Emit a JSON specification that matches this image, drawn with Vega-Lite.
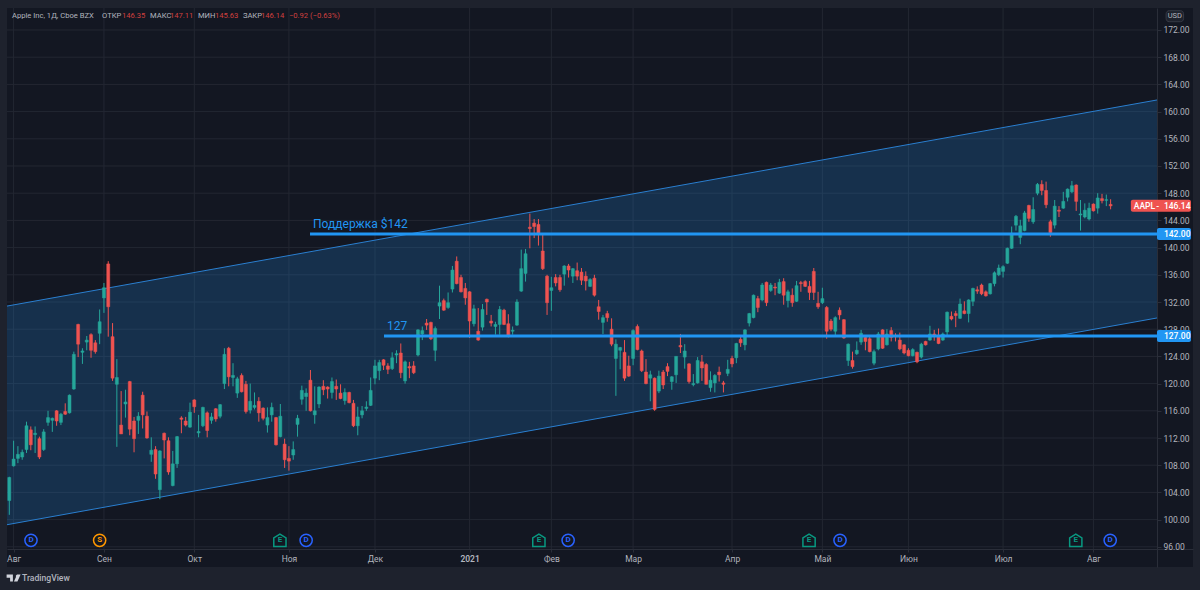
{
  "$schema": "https://vega.github.io/schema/vega-lite/v6.json",
  "background": "#1e222d",
  "autosize": "none",
  "padding": {"left": 7, "top": 8, "right": 7, "bottom": 23},
  "width": 1186,
  "height": 559,
  "datasets": {
    "candles": [
      {"i":0,"o":102.8,"h":106.3,"l":100.7,"c":106.2},{"i":1,"o":107.9,"h":111.6,"l":107.8,"c":108.9},{"i":2,"o":109.0,"h":110.8,"l":108.3,"c":109.6},{"i":3,"o":109.2,"h":110.3,"l":108.8,"c":109.9},{"i":4,"o":110.3,"h":114.4,"l":109.8,"c":113.8},{"i":5,"o":113.2,"h":113.7,"l":110.2,"c":111.0},{"i":6,"o":112.5,"h":113.7,"l":109.8,"c":112.7},{"i":7,"o":111.9,"h":112.2,"l":108.9,"c":109.2},{"i":8,"o":110.3,"h":113.3,"l":110.1,"c":112.9},{"i":9,"o":114.3,"h":116.0,"l":113.8,"c":115.0},
      {"i":10,"o":114.6,"h":115.0,"l":112.9,"c":114.9},{"i":11,"o":116.0,"h":116.1,"l":113.8,"c":114.5},{"i":12,"o":114.3,"h":115.7,"l":113.9,"c":115.5},{"i":13,"o":115.9,"h":117.1,"l":115.4,"c":115.5},{"i":14,"o":115.7,"h":118.4,"l":115.6,"c":118.3},{"i":15,"o":119.2,"h":124.7,"l":119.1,"c":124.3},{"i":16,"o":128.7,"h":128.8,"l":123.9,"c":125.8},{"i":17,"o":124.6,"h":125.2,"l":122.9,"c":124.8},{"i":18,"o":126.1,"h":127.0,"l":124.9,"c":126.4},{"i":19,"o":127.2,"h":127.4,"l":123.8,"c":124.9},
      {"i":20,"o":126.0,"h":126.4,"l":124.4,"c":124.7},{"i":21,"o":127.4,"h":130.9,"l":125.8,"c":129.1},{"i":22,"o":132.6,"h":134.8,"l":130.4,"c":134.1},{"i":23,"o":137.6,"h":138.0,"l":126.9,"c":131.3},{"i":24,"o":126.9,"h":128.9,"l":120.4,"c":120.8},{"i":25,"o":119.9,"h":123.6,"l":110.7,"c":120.9},{"i":26,"o":113.9,"h":118.9,"l":112.6,"c":112.6},{"i":27,"o":117.0,"h":119.1,"l":115.0,"c":117.3},{"i":28,"o":120.3,"h":120.4,"l":112.4,"c":113.3},{"i":29,"o":114.5,"h":115.1,"l":109.9,"c":111.9},
      {"i":30,"o":114.6,"h":115.8,"l":112.6,"c":115.2},{"i":31,"o":118.3,"h":118.8,"l":113.4,"c":115.4},{"i":32,"o":115.2,"h":115.9,"l":111.9,"c":112.0},{"i":33,"o":109.6,"h":112.1,"l":108.5,"c":110.2},{"i":34,"o":110.3,"h":110.8,"l":106.0,"c":106.7},{"i":35,"o":104.4,"h":110.2,"l":103.0,"c":110.1},{"i":36,"o":112.7,"h":112.8,"l":109.0,"c":111.7},{"i":37,"o":111.6,"h":112.1,"l":106.6,"c":107.0},{"i":38,"o":105.0,"h":110.1,"l":104.9,"c":108.2},{"i":39,"o":108.2,"h":112.3,"l":107.6,"c":112.2},
      {"i":40,"o":114.95,"h":115.2,"l":112.7,"c":114.75},{"i":41,"o":114.5,"h":115.1,"l":113.7,"c":113.9},{"i":42,"o":113.6,"h":117.2,"l":113.5,"c":115.8},{"i":43,"o":117.6,"h":117.7,"l":115.7,"c":116.6},{"i":44,"o":112.75,"h":115.4,"l":112.1,"c":112.95},{"i":45,"o":113.8,"h":116.6,"l":113.6,"c":116.5},{"i":46,"o":115.7,"h":115.9,"l":112.1,"c":113.1},{"i":47,"o":114.6,"h":115.7,"l":114.1,"c":115.1},{"i":48,"o":116.3,"h":116.4,"l":114.4,"c":114.8},{"i":49,"o":115.2,"h":117.0,"l":114.9,"c":116.9},
      {"i":50,"o":120.0,"h":125.2,"l":119.2,"c":124.3},{"i":51,"o":125.2,"h":125.4,"l":119.6,"c":121.0},{"i":52,"o":120.9,"h":123.0,"l":119.6,"c":121.2},{"i":53,"o":118.6,"h":121.0,"l":117.9,"c":120.7},{"i":54,"o":121.2,"h":121.5,"l":118.7,"c":118.8},{"i":55,"o":119.9,"h":120.4,"l":115.6,"c":115.9},{"i":56,"o":116.1,"h":120.0,"l":115.6,"c":117.4},{"i":57,"o":116.5,"h":118.7,"l":116.2,"c":116.8},{"i":58,"o":117.4,"h":118.0,"l":114.4,"c":115.7},{"i":59,"o":116.4,"h":116.5,"l":114.6,"c":114.9},
      {"i":60,"o":113.9,"h":116.5,"l":112.8,"c":115.0},{"i":61,"o":115.4,"h":117.2,"l":114.4,"c":116.5},{"i":62,"o":115.0,"h":115.1,"l":110.9,"c":111.0},{"i":63,"o":112.2,"h":117.0,"l":112.1,"c":115.2},{"i":64,"o":111.1,"h":111.9,"l":107.6,"c":108.8},{"i":65,"o":109.0,"h":110.8,"l":107.2,"c":108.6},{"i":66,"o":109.5,"h":111.5,"l":108.8,"c":110.3},{"i":67,"o":114.0,"h":115.4,"l":112.2,"c":114.9},{"i":68,"o":117.7,"h":119.7,"l":116.9,"c":119.0},{"i":69,"o":118.1,"h":119.3,"l":116.0,"c":118.6},
      {"i":70,"o":120.5,"h":122.0,"l":115.9,"c":116.0},{"i":71,"o":115.4,"h":119.6,"l":114.1,"c":116.0},{"i":72,"o":117.0,"h":119.6,"l":116.4,"c":119.5},{"i":73,"o":119.6,"h":120.5,"l":118.3,"c":119.1},{"i":74,"o":119.5,"h":119.6,"l":117.8,"c":119.2},{"i":75,"o":118.7,"h":120.9,"l":117.8,"c":120.3},{"i":76,"o":119.6,"h":120.6,"l":117.6,"c":119.2},{"i":77,"o":118.6,"h":119.9,"l":117.7,"c":117.8},{"i":78,"o":117.5,"h":119.3,"l":116.9,"c":118.7},{"i":79,"o":118.7,"h":118.8,"l":117.1,"c":117.2},
      {"i":80,"o":117.1,"h":117.6,"l":113.6,"c":113.8},{"i":81,"o":113.8,"h":116.6,"l":112.4,"c":115.1},{"i":82,"o":115.4,"h":116.7,"l":114.9,"c":116.0},{"i":83,"o":116.35,"h":117.4,"l":116.0,"c":116.55},{"i":84,"o":116.8,"h":120.9,"l":116.7,"c":119.0},{"i":85,"o":120.8,"h":123.5,"l":119.9,"c":122.6},{"i":86,"o":121.9,"h":123.5,"l":120.5,"c":123.1},{"i":87,"o":123.5,"h":123.6,"l":122.0,"c":122.7},{"i":88,"o":122.6,"h":123.0,"l":121.4,"c":122.1},{"i":89,"o":122.2,"h":124.6,"l":122.0,"c":123.8},
      {"i":90,"o":124.2,"h":124.9,"l":123.0,"c":124.4},{"i":91,"o":124.5,"h":125.9,"l":120.8,"c":121.6},{"i":92,"o":120.4,"h":123.4,"l":120.0,"c":123.2},{"i":93,"o":122.5,"h":123.2,"l":120.8,"c":122.3},{"i":94,"o":122.6,"h":123.3,"l":121.4,"c":121.6},{"i":95,"o":124.2,"h":128.0,"l":124.0,"c":127.9},{"i":96,"o":127.3,"h":128.4,"l":126.4,"c":127.8},{"i":97,"o":128.9,"h":129.5,"l":127.9,"c":128.6},{"i":98,"o":129.0,"h":129.1,"l":126.4,"c":126.6},{"i":99,"o":124.9,"h":128.4,"l":123.3,"c":128.1},
      {"i":100,"o":131.4,"h":134.4,"l":129.5,"c":131.9},{"i":101,"o":132.2,"h":132.5,"l":130.7,"c":130.8},{"i":102,"o":131.2,"h":133.4,"l":131.0,"c":131.9},{"i":103,"o":133.9,"h":137.3,"l":133.4,"c":136.7},{"i":104,"o":138.0,"h":138.7,"l":134.6,"c":134.7},{"i":105,"o":135.6,"h":136.0,"l":133.4,"c":133.5},{"i":106,"o":134.0,"h":134.8,"l":131.6,"c":132.6},{"i":107,"o":133.5,"h":133.6,"l":126.7,"c":129.2},{"i":108,"o":128.8,"h":131.6,"l":128.4,"c":131.0},{"i":109,"o":127.7,"h":131.1,"l":126.3,"c":126.4},
      {"i":110,"o":128.3,"h":131.7,"l":127.8,"c":130.9},{"i":111,"o":132.4,"h":132.5,"l":130.1,"c":132.0},{"i":112,"o":129.2,"h":130.1,"l":128.4,"c":128.9},{"i":113,"o":128.4,"h":129.1,"l":127.2,"c":128.7},{"i":114,"o":128.7,"h":131.4,"l":127.2,"c":130.9},{"i":115,"o":130.8,"h":131.0,"l":128.6,"c":128.7},{"i":116,"o":128.8,"h":130.2,"l":126.8,"c":127.0},{"i":117,"o":127.7,"h":128.4,"l":127.2,"c":127.85},{"i":118,"o":128.6,"h":132.4,"l":128.5,"c":132.0},{"i":119,"o":133.6,"h":139.7,"l":133.5,"c":136.9},
      {"i":120,"o":136.2,"h":139.8,"l":135.0,"c":139.1},{"i":121,"o":143.0,"h":145.0,"l":139.9,"c":142.8},{"i":122,"o":143.6,"h":144.2,"l":141.4,"c":143.1},{"i":123,"o":143.4,"h":144.2,"l":140.3,"c":142.0},{"i":124,"o":139.5,"h":141.9,"l":136.7,"c":136.9},{"i":125,"o":135.8,"h":136.0,"l":130.1,"c":131.9},{"i":126,"o":133.7,"h":135.7,"l":130.7,"c":134.1},{"i":127,"o":135.6,"h":136.1,"l":134.3,"c":134.8},{"i":128,"o":135.6,"h":136.0,"l":133.5,"c":133.8},{"i":129,"o":136.1,"h":137.4,"l":134.4,"c":137.3},
      {"i":130,"o":137.3,"h":137.6,"l":135.6,"c":136.7},{"i":131,"o":135.8,"h":137.0,"l":134.8,"c":136.9},{"i":132,"o":136.6,"h":137.8,"l":135.2,"c":135.8},{"i":133,"o":136.4,"h":137.0,"l":134.5,"c":135.2},{"i":134,"o":135.8,"h":136.5,"l":133.7,"c":135.1},{"i":135,"o":134.3,"h":135.5,"l":134.2,"c":135.3},{"i":136,"o":135.5,"h":136.0,"l":132.8,"c":133.0},{"i":137,"o":131.3,"h":132.3,"l":129.4,"c":130.6},{"i":138,"o":129.0,"h":130.1,"l":127.3,"c":129.7},{"i":139,"o":130.3,"h":130.7,"l":129.1,"c":129.7},
      {"i":140,"o":128.0,"h":129.6,"l":125.5,"c":125.8},{"i":141,"o":123.7,"h":126.5,"l":118.2,"c":125.8},{"i":142,"o":124.9,"h":125.4,"l":122.1,"c":125.3},{"i":143,"o":124.6,"h":126.4,"l":120.4,"c":120.8},{"i":144,"o":122.6,"h":124.1,"l":121.0,"c":121.1},{"i":145,"o":123.7,"h":128.0,"l":122.7,"c":127.8},{"i":146,"o":128.4,"h":128.7,"l":124.9,"c":125.0},{"i":147,"o":124.8,"h":125.0,"l":121.7,"c":121.9},{"i":148,"o":121.7,"h":123.6,"l":119.9,"c":120.0},{"i":149,"o":120.8,"h":121.9,"l":117.4,"c":121.3},
      {"i":150,"o":120.8,"h":120.9,"l":116.0,"c":116.2},{"i":151,"o":118.9,"h":121.9,"l":118.6,"c":121.1},{"i":152,"o":121.7,"h":122.0,"l":119.2,"c":119.8},{"i":153,"o":122.5,"h":123.0,"l":121.1,"c":121.8},{"i":154,"o":120.3,"h":121.1,"l":119.1,"c":121.0},{"i":155,"o":121.3,"h":124.0,"l":120.1,"c":124.0},{"i":156,"o":125.6,"h":127.3,"l":124.5,"c":125.4},{"i":157,"o":123.9,"h":125.8,"l":122.2,"c":124.8},{"i":158,"o":122.9,"h":123.0,"l":120.0,"c":120.3},{"i":159,"o":119.85,"h":121.4,"l":119.6,"c":120.0},
      {"i":160,"o":120.1,"h":123.9,"l":120.0,"c":123.4},{"i":161,"o":123.2,"h":124.2,"l":120.4,"c":122.3},{"i":162,"o":122.8,"h":123.0,"l":119.9,"c":119.9},{"i":163,"o":119.4,"h":121.8,"l":118.8,"c":120.5},{"i":164,"o":120.1,"h":121.4,"l":118.7,"c":121.2},{"i":165,"o":121.7,"h":122.5,"l":120.3,"c":121.3},{"i":166,"o":120.1,"h":120.4,"l":118.7,"c":119.9},{"i":167,"o":121.5,"h":123.5,"l":121.1,"c":122.1},{"i":168,"o":123.7,"h":124.1,"l":122.4,"c":122.9},{"i":169,"o":123.8,"h":126.0,"l":123.0,"c":125.9},
      {"i":170,"o":126.5,"h":127.0,"l":125.4,"c":126.0},{"i":171,"o":125.7,"h":128.0,"l":124.9,"c":127.9},{"i":172,"o":128.9,"h":130.4,"l":128.4,"c":130.3},{"i":173,"o":129.7,"h":133.1,"l":129.6,"c":133.0},{"i":174,"o":132.5,"h":132.9,"l":130.5,"c":131.2},{"i":175,"o":132.3,"h":134.8,"l":132.1,"c":134.5},{"i":176,"o":134.9,"h":135.0,"l":131.4,"c":131.9},{"i":177,"o":133.7,"h":134.8,"l":133.5,"c":134.5},{"i":178,"o":134.2,"h":134.8,"l":133.0,"c":134.05},{"i":179,"o":133.3,"h":135.4,"l":133.2,"c":134.9},
      {"i":180,"o":135.0,"h":135.5,"l":131.6,"c":133.0},{"i":181,"o":132.2,"h":133.8,"l":131.2,"c":133.5},{"i":182,"o":133.0,"h":134.0,"l":131.3,"c":131.9},{"i":183,"o":132.1,"h":135.1,"l":132.0,"c":134.4},{"i":184,"o":134.85,"h":135.1,"l":133.5,"c":134.7},{"i":185,"o":135.0,"h":135.2,"l":134.2,"c":134.3},{"i":186,"o":134.3,"h":135.1,"l":132.3,"c":133.4},{"i":187,"o":136.5,"h":137.0,"l":132.3,"c":133.4},{"i":188,"o":131.8,"h":133.5,"l":131.0,"c":131.3},{"i":189,"o":131.9,"h":134.1,"l":131.7,"c":132.5},
      {"i":190,"o":131.2,"h":131.4,"l":126.6,"c":127.7},{"i":191,"o":129.2,"h":129.5,"l":127.7,"c":128.0},{"i":192,"o":127.7,"h":129.9,"l":127.0,"c":129.7},{"i":193,"o":130.8,"h":131.2,"l":129.4,"c":130.1},{"i":194,"o":129.4,"h":129.5,"l":126.6,"c":126.7},{"i":195,"o":123.4,"h":125.9,"l":122.6,"c":125.8},{"i":196,"o":123.4,"h":124.7,"l":122.2,"c":122.5},{"i":197,"o":124.4,"h":126.2,"l":124.2,"c":124.9},{"i":198,"o":126.1,"h":127.9,"l":125.7,"c":127.4},{"i":199,"o":126.8,"h":127.0,"l":124.9,"c":126.2},
      {"i":200,"o":126.6,"h":126.9,"l":124.6,"c":124.7},{"i":201,"o":123.0,"h":125.0,"l":122.7,"c":124.7},{"i":202,"o":125.1,"h":127.6,"l":124.9,"c":127.3},{"i":203,"o":127.9,"h":128.0,"l":125.1,"c":125.2},{"i":204,"o":125.7,"h":128.0,"l":125.6,"c":127.3},{"i":205,"o":127.8,"h":128.3,"l":126.2,"c":126.8},{"i":206,"o":127.05,"h":127.4,"l":126.2,"c":126.9},{"i":207,"o":126.4,"h":127.5,"l":124.9,"c":125.1},{"i":208,"o":125.7,"h":125.8,"l":124.3,"c":124.5},{"i":209,"o":124.9,"h":125.2,"l":124.0,"c":124.1},
      {"i":210,"o":124.1,"h":125.2,"l":124.0,"c":125.0},{"i":211,"o":124.6,"h":124.7,"l":123.0,"c":123.2},{"i":212,"o":123.9,"h":126.0,"l":123.7,"c":125.8},{"i":213,"o":126.2,"h":126.3,"l":125.6,"c":125.7},{"i":214,"o":126.4,"h":128.5,"l":126.3,"c":127.3},{"i":215,"o":127.3,"h":127.9,"l":126.3,"c":127.0},{"i":216,"o":127.0,"h":128.1,"l":125.8,"c":125.9},{"i":217,"o":126.4,"h":127.5,"l":126.3,"c":127.3},{"i":218,"o":127.6,"h":130.6,"l":127.0,"c":130.5},{"i":219,"o":129.9,"h":130.6,"l":129.3,"c":129.5},
      {"i":220,"o":130.3,"h":130.7,"l":128.3,"c":130.0},{"i":221,"o":129.6,"h":132.5,"l":129.5,"c":131.7},{"i":222,"o":130.7,"h":132.1,"l":130.2,"c":130.3},{"i":223,"o":130.3,"h":132.4,"l":129.0,"c":132.3},{"i":224,"o":132.1,"h":134.1,"l":131.4,"c":134.0},{"i":225,"o":133.8,"h":134.3,"l":133.2,"c":133.6},{"i":226,"o":134.5,"h":134.7,"l":133.0,"c":133.2},{"i":227,"o":133.5,"h":133.7,"l":132.8,"c":132.9},{"i":228,"o":133.2,"h":134.8,"l":133.1,"c":134.7},{"i":229,"o":134.7,"h":136.5,"l":134.3,"c":136.3},
      {"i":230,"o":136.0,"h":137.5,"l":135.8,"c":137.0},{"i":231,"o":136.5,"h":137.4,"l":135.6,"c":137.2},{"i":232,"o":137.7,"h":140.0,"l":137.6,"c":139.9},{"i":233,"o":139.9,"h":143.1,"l":139.8,"c":142.1},{"i":234,"o":143.3,"h":144.8,"l":142.5,"c":144.6},{"i":235,"o":141.5,"h":144.1,"l":140.5,"c":143.2},{"i":236,"o":142.5,"h":145.4,"l":142.4,"c":145.1},{"i":237,"o":146.2,"h":146.3,"l":143.8,"c":144.3},{"i":238,"o":143.8,"h":147.4,"l":143.5,"c":145.6},{"i":239,"o":148.0,"h":149.5,"l":147.7,"c":149.3},
      {"i":240,"o":149.3,"h":149.9,"l":147.7,"c":148.4},{"i":241,"o":148.4,"h":149.7,"l":145.8,"c":146.3},{"i":242,"o":143.8,"h":144.1,"l":141.6,"c":142.2},{"i":243,"o":143.3,"h":147.0,"l":142.8,"c":146.1},{"i":244,"o":145.5,"h":146.1,"l":144.5,"c":145.35},{"i":245,"o":145.8,"h":148.2,"l":145.7,"c":146.8},{"i":246,"o":147.4,"h":148.7,"l":146.8,"c":148.6},{"i":247,"o":148.2,"h":149.8,"l":148.0,"c":149.1},{"i":248,"o":149.2,"h":149.3,"l":145.4,"c":146.8},{"i":249,"o":144.8,"h":147.0,"l":142.5,"c":144.95},
      {"i":250,"o":144.5,"h":146.5,"l":144.3,"c":145.5},{"i":251,"o":144.2,"h":146.6,"l":144.0,"c":145.8},{"i":252,"o":146.4,"h":146.5,"l":145.3,"c":145.4},{"i":253,"o":145.8,"h":148.0,"l":145.0,"c":147.3},{"i":254,"o":147.2,"h":147.9,"l":146.5,"c":146.9},{"i":255,"o":146.95,"h":147.8,"l":146.1,"c":147.05},{"i":256,"o":146.35,"h":147.11,"l":145.63,"c":146.14}
    ],
    "channel": [
      {"i":-0.535,"upper":131.4,"lower":99.25},
      {"i":266.78,"upper":161.71,"lower":129.65}
    ],
    "levels": [
      {"start":69.9,"end":266.78,"level":142},
      {"start":87.1,"end":266.78,"level":127}
    ],
    "yticks": [
      {"p":96},{"p":100},{"p":104},{"p":108},{"p":112},{"p":116},{"p":120},{"p":124},{"p":128},{"p":132},{"p":136},{"p":140},{"p":144},{"p":148},{"p":152},{"p":156},{"p":160},{"p":164},{"p":168},{"p":172}
    ],
    "xticks": [
      {"i":1},{"i":22},{"i":43},{"i":65},{"i":85},{"i":107},{"i":126},{"i":145},{"i":168},{"i":189},{"i":209},{"i":231},{"i":252}
    ],
    "events": [
      {"i":5.04,"p":96.96,"kind":"D"},{"i":21,"p":96.96,"kind":"S"},{"i":62.9,"p":96.96,"kind":"E"},{"i":69,"p":96.96,"kind":"D"},{"i":123.1,"p":96.96,"kind":"E"},{"i":129.9,"p":96.96,"kind":"D"},{"i":185.9,"p":96.96,"kind":"E"},{"i":193.1,"p":96.96,"kind":"D"},{"i":247.9,"p":96.96,"kind":"E"},{"i":255.9,"p":96.96,"kind":"D"}
    ],
    "header": [
      {"i":0.63,"p":174,"text":"Apple Inc, 1Д, Cboe BZX","role":"name"},
      {"i":21.55,"p":174,"text":"ОТКР","role":"name"},
      {"i":26.2,"p":174,"text":"146.35","role":"value"},
      {"i":32.7,"p":174,"text":"МАКС","role":"name"},
      {"i":37.35,"p":174,"text":"147.11","role":"value"},
      {"i":43.86,"p":174,"text":"МИН","role":"name"},
      {"i":47.8,"p":174,"text":"145.63","role":"value"},
      {"i":54.3,"p":174,"text":"ЗАКР","role":"name"},
      {"i":58.5,"p":174,"text":"146.14","role":"value"},
      {"i":65,"p":174,"text":"−0.92 (−0.63%)","role":"value"}
    ],
    "notes": [
      {"i":70.6,"p":142.4,"text":"Поддержка $142"},
      {"i":87.8,"p":127.45,"text":"127"}
    ],
    "tags": [
      {"from":266.78,"to":274.68,"top":142.88,"bottom":141.12,"fill":"level"},
      {"from":266.78,"to":274.68,"top":127.88,"bottom":126.12,"fill":"level"},
      {"from":260.7,"to":274.68,"top":147.02,"bottom":145.26,"fill":"last"}
    ],
    "tagText": [
      {"i":268.4,"p":142,"text":"142.00"},
      {"i":268.4,"p":127,"text":"127.00"},
      {"i":261.4,"p":146.14,"text":"AAPL"},
      {"i":266.6,"p":146.14,"text":"-"},
      {"i":268.4,"p":146.14,"text":"146.14"}
    ]
  },
  "layer": [
    {
      "data": {"name": "yticks"},
      "mark": {"type": "rule", "color": "#232732", "strokeWidth": 1},
      "encoding": {
        "y": {
          "field": "p",
          "type": "quantitative",
          "title": null,
          "scale": {"domain": [93.03, 175.235], "nice": false, "zero": false},
          "axis": {
            "orient": "right",
            "offset": -36,
            "values": [96,100,104,108,112,116,120,124,128,132,136,140,144,148,152,156,160,164,168,172],
            "tickCount": 25,
            "format": ".2f",
            "grid": false,
            "labelOverlap": false,
            "domainColor": "#2a2e39",
            "tickColor": "#2a2e39",
            "tickSize": 4,
            "labelColor": "#b2b5be",
            "labelFont": "Roboto",
            "labelFontSize": 8.5,
            "labelPadding": 2
          }
        },
        "x": {"datum": -0.535, "title": null, "scale": {"domain": [-0.535, 275.15], "nice": false, "zero": false, "padding": 0}},
        "x2": {"datum": 266.78}
      }
    },
    {
      "data": {"name": "xticks"},
      "mark": {"type": "rule", "color": "#232732", "strokeWidth": 1},
      "encoding": {
        "x": {
          "field": "i",
          "type": "quantitative",
          "title": null,
          "axis": {
            "orient": "bottom",
            "offset": -18,
            "values": [1,22,43,65,85,107,126,145,168,189,209,231,252],
            "labelExpr": "{'1':'Авг','22':'Сен','43':'Окт','65':'Ноя','85':'Дек','107':'2021','126':'Фев','145':'Мар','168':'Апр','189':'Май','209':'Июн','231':'Июл','252':'Авг'}[datum.value]",
            "grid": false,
            "labelOverlap": false,
            "domainColor": "#2a2e39",
            "tickColor": "#2a2e39",
            "tickSize": 3,
            "labelColor": "#b2b5be",
            "labelFont": "Roboto",
            "labelFontSize": 8.5,
            "labelPadding": 2,
            "labelFontWeight": {"condition": {"test": "datum.value == 107", "value": 600}, "value": "normal"}
          }
        },
        "y": {"datum": 95.68, "title": null},
        "y2": {"datum": 175.235}
      }
    },
    {
      "data": {"name": "channel"},
      "mark": {"type": "area", "color": "#2196f3", "opacity": 0.2},
      "encoding": {
        "x": {"field": "i", "type": "quantitative", "title": null},
        "y": {"field": "upper", "type": "quantitative", "title": null},
        "y2": {"field": "lower"}
      }
    },
    {
      "data": {"name": "channel"},
      "mark": {"type": "line", "color": "#2a7fd0", "strokeWidth": 1},
      "encoding": {
        "x": {"field": "i", "type": "quantitative", "title": null},
        "y": {"field": "upper", "type": "quantitative", "title": null}
      }
    },
    {
      "data": {"name": "channel"},
      "mark": {"type": "line", "color": "#2a7fd0", "strokeWidth": 1},
      "encoding": {
        "x": {"field": "i", "type": "quantitative", "title": null},
        "y": {"field": "lower", "type": "quantitative", "title": null}
      }
    },
    {
      "data": {"name": "candles"},
      "mark": {"type": "rule", "strokeWidth": 1},
      "encoding": {
        "x": {"field": "i", "type": "quantitative", "title": null},
        "y": {"field": "h", "type": "quantitative", "title": null},
        "y2": {"field": "l"},
        "color": {"condition": {"test": "datum.c >= datum.o", "value": "#26a69a"}, "value": "#ef5350"}
      }
    },
    {
      "data": {"name": "candles"},
      "mark": {"type": "bar", "orient": "vertical", "size": 3, "strokeWidth": 0.5},
      "encoding": {
        "x": {"field": "i", "type": "quantitative", "title": null},
        "y": {"field": "o", "type": "quantitative", "title": null},
        "y2": {"field": "c"},
        "color": {"condition": {"test": "datum.c >= datum.o", "value": "#26a69a"}, "value": "#ef5350"},
        "stroke": {"condition": {"test": "datum.c >= datum.o", "value": "#26a69a"}, "value": "#ef5350"}
      }
    },
    {
      "data": {"name": "levels"},
      "mark": {"type": "rule", "color": "#2196f3", "strokeWidth": 3},
      "encoding": {
        "x": {"field": "start", "type": "quantitative", "title": null},
        "x2": {"field": "end"},
        "y": {"field": "level", "type": "quantitative", "title": null}
      }
    },
    {
      "data": {"name": "notes"},
      "mark": {"type": "text", "align": "left", "baseline": "bottom", "color": "#2196f3", "font": "Roboto", "fontSize": 12},
      "encoding": {
        "x": {"field": "i", "type": "quantitative", "title": null},
        "y": {"field": "p", "type": "quantitative", "title": null},
        "text": {"field": "text"}
      }
    },
    {
      "data": {"name": "events"},
      "mark": {"type": "point", "filled": false, "size": 150, "strokeWidth": 1.5, "opacity": 1},
      "encoding": {
        "x": {"field": "i", "type": "quantitative", "title": null},
        "y": {"field": "p", "type": "quantitative", "title": null},
        "color": {"field": "kind", "type": "nominal", "scale": {"domain": ["D", "S", "E"], "range": ["#2962ff", "#ff9800", "#089981"]}, "legend": null},
        "shape": {"field": "kind", "type": "nominal", "scale": {"domain": ["D", "S", "E"], "range": ["circle", "circle", "M-1,-0.4 L0,-1 L1,-0.4 L1,1 L-1,1 Z"]}, "legend": null}
      }
    },
    {
      "data": {"name": "events"},
      "mark": {"type": "text", "font": "Roboto", "fontSize": 8, "fontWeight": "bold"},
      "encoding": {
        "x": {"field": "i", "type": "quantitative", "title": null},
        "y": {"field": "p", "type": "quantitative", "title": null},
        "text": {"field": "kind"},
        "color": {"field": "kind", "type": "nominal", "legend": null}
      }
    },
    {
      "data": {"name": "header"},
      "mark": {"type": "text", "align": "left", "font": "Roboto", "fontSize": 7.6},
      "encoding": {
        "x": {"field": "i", "type": "quantitative", "title": null},
        "y": {"field": "p", "type": "quantitative", "title": null},
        "text": {"field": "text"},
        "fill": {"condition": {"test": "datum.role == 'value'", "value": "#d0403f"}, "value": "#b2b5be"}
      }
    },
    {
      "data": {"values": [{"i": 1.0, "p": 91.4}]},
      "mark": {"type": "point", "filled": true, "size": 196, "color": "#d1d4dc", "opacity": 1, "shape": "M-1,-0.5 H-0.1 V0.5 H-0.5 V-0.05 H-1 Z M0.32,-0.28 A0.2,0.2 0 1 1 0.32,-0.27 Z M0.5,-0.5 H1 L0.55,0.5 H0.05 Z"},
      "encoding": {
        "x": {"field": "i", "type": "quantitative", "title": null},
        "y": {"field": "p", "type": "quantitative", "title": null}
      }
    },
    {
      "data": {"values": [{"i": 2.95, "p": 91.4, "text": "TradingView"}]},
      "mark": {"type": "text", "align": "left", "font": "Roboto", "fontSize": 8.6, "fontWeight": 500, "color": "#b2b5be"},
      "encoding": {
        "x": {"field": "i", "type": "quantitative", "title": null},
        "y": {"field": "p", "type": "quantitative", "title": null},
        "text": {"field": "text"}
      }
    },
    {
      "data": {"values": [{"from": 268.9, "to": 272.96, "top": 174.84, "bottom": 173.22}]},
      "mark": {"type": "rect", "fill": "#1e222d", "stroke": "#363a45", "cornerRadius": 3, "strokeWidth": 1},
      "encoding": {
        "x": {"field": "from", "type": "quantitative", "title": null},
        "x2": {"field": "to"},
        "y": {"field": "top", "type": "quantitative", "title": null},
        "y2": {"field": "bottom"}
      }
    },
    {
      "data": {"values": [{"mid": 270.93, "p": 174.03, "text": "USD"}]},
      "mark": {"type": "text", "font": "Roboto", "fontSize": 7.5, "color": "#b2b5be"},
      "encoding": {
        "x": {"field": "mid", "type": "quantitative", "title": null},
        "y": {"field": "p", "type": "quantitative", "title": null},
        "text": {"field": "text"}
      }
    },
    {
      "data": {"name": "tags"},
      "mark": {"type": "rect", "cornerRadius": 2},
      "encoding": {
        "x": {"field": "from", "type": "quantitative", "title": null},
        "x2": {"field": "to"},
        "y": {"field": "top", "type": "quantitative", "title": null},
        "y2": {"field": "bottom"},
        "fill": {"condition": {"test": "datum.fill == 'last'", "value": "#ef5350"}, "value": "#2196f3"}
      }
    },
    {
      "data": {"name": "tagText"},
      "mark": {"type": "text", "align": "left", "font": "Roboto", "fontSize": 8.5, "fontWeight": 500, "color": "#ffffff"},
      "encoding": {
        "x": {"field": "i", "type": "quantitative", "title": null},
        "y": {"field": "p", "type": "quantitative", "title": null},
        "text": {"field": "text"}
      }
    }
  ],
  "config": {
    "font": "Roboto",
    "view": {"fill": "#131722", "stroke": null}
  }
}
